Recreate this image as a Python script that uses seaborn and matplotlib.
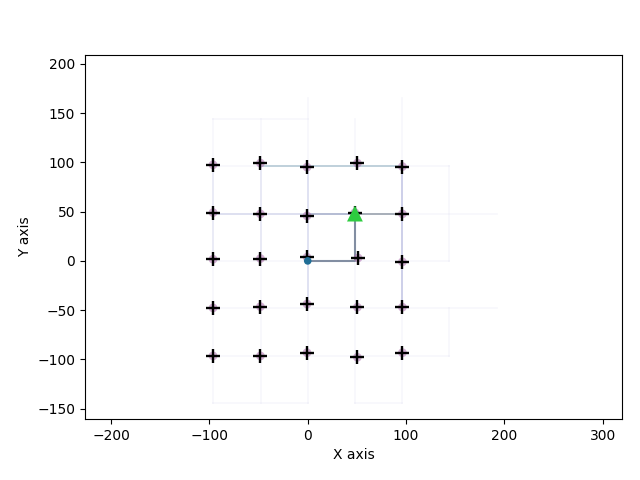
import matplotlib
matplotlib.use('Agg')
import matplotlib.pyplot as plt
import seaborn as sns
import pandas as pd

meas_x = [-96.3, -48.1, -0.7, 50.5, 96.3,
          -96.3, -48.1, -0.7, 48.0, 96.3,
          -96.3, -48.1, -0.7, 51.2, 96.3,
          -96.3, -48.1, -0.7, 50.5, 96.3,
          -96.3, -48.1, -0.7, 50.5, 96.3]
meas_y = [97.5, 99.2, 95.1, 99.2, 95.7,
          49.0, 47.7, 45.7, 49.0, 47.7,
          1.7, 2.4, 3.7, 3.0, -1.0,
          -47.7, -46.4, -43.7, -47.0, -47.0,
          -96.4, -96.4, -93.1, -97.8, -93.1]

# faint explored edges (x0, y0, x1, y1)
faint_edges = [
    (-96, 144, 0, 144), (-96, 96, -48, 96), (96, 96, 144, 96),
    (-96, 48, 0, 48), (96, 48, 192, 48), (-96, 0, 0, 0), (48, 0, 144, 0),
    (-96, -48, 192, -48), (-96, -96, 144, -96), (-96, -144, 0, -144), (48, -144, 96, -144),
    (-96, -144, -96, 144), (-48, -144, -48, 144), (0, -144, 0, 165),
    (48, -144, 48, 0), (48, 96, 48, 144), (96, -144, 96, 165),
    (144, 0, 144, 96), (144, -96, 144, -48),
]
# more visited edges: (x0, y0, x1, y1, colour, alpha)
strong_edges = [
    (-48, 96, 96, 96, '#b4c8d4', 0.85),
    (96, 96, 96, -48, '#b0b4dc', 0.6),
    (0, 96, 0, -48, '#c8cce8', 0.5),
    (-48, 96, -48, 0, '#d0d4ec', 0.4),
    (-96, 96, -96, 0, '#d0d4ec', 0.35),
    (-96, 48, 0, 48, '#c4c8e4', 0.5),
    (0, 48, 48, 48, '#a8b0cc', 0.85),
    (48, 48, 96, 48, '#98a0ac', 0.85),
]
path_x = [0, 48, 48]
path_y = [0, 0, 48]
start = (0, 0)
goal = (48, 48)

measured = pd.DataFrame({'x': meas_x, 'y': meas_y})

fig = plt.figure(figsize=(6.4, 4.8), dpi=100)
ax = fig.add_axes([85 / 640, 1 - 419 / 480, 537 / 640, 364 / 480])

for x0, y0, x1, y1 in faint_edges:
    ax.plot([x0, x1], [y0, y1], color='#d0d0ec', alpha=0.18, lw=1.2, zorder=1)
for x0, y0, x1, y1, c, a in strong_edges:
    ax.plot([x0, x1], [y0, y1], color=c, alpha=a, lw=1.4, zorder=2)
ax.plot(path_x, path_y, color='#6c7a92', lw=1.5, alpha=0.85, zorder=3)

sns.scatterplot(data=measured, x='x', y='y', color='#b070b0', s=40, alpha=0.55,
                edgecolor='none', ax=ax, zorder=4)
sns.scatterplot(data=measured, x='x', y='y', marker='+', color='black', s=115,
                linewidth=1.7, ax=ax, zorder=5)
sns.scatterplot(x=[start[0]], y=[start[1]], color='#1f6e96', s=30, edgecolor='none',
                ax=ax, zorder=6)
sns.scatterplot(x=[goal[0]], y=[goal[1]], marker='^', color='#2ecc40', s=130,
                edgecolor='none', ax=ax, zorder=7)

ax.set_xlim(-226.5, 319.6)
ax.set_ylim(-160.4, 208.9)
ax.set_xticks([-200, -100, 0, 100, 200, 300])
ax.set_yticks([-150, -100, -50, 0, 50, 100, 150, 200])
ax.set_xlabel('X axis')
ax.set_ylabel('Y axis')

fig.savefig('out.png', dpi=100)
